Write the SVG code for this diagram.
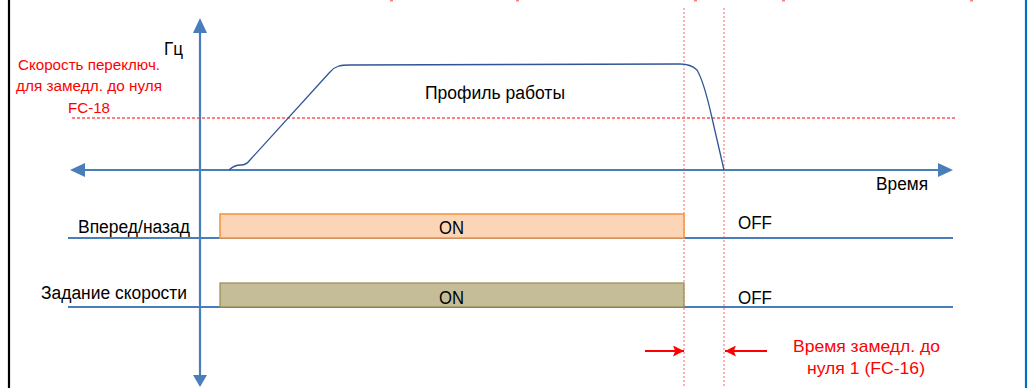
<svg xmlns="http://www.w3.org/2000/svg" width="1032" height="388" viewBox="0 0 1032 388">
<defs>
<style>
text{font-family:"Liberation Sans",Arial,sans-serif;font-size:18px;fill:#000}
.red{fill:#FF0000;font-size:17px}
.red.small{font-size:15.5px}
.axis{stroke:#4A7EBB;stroke-width:2.2;fill:none}
.sig{stroke:#4A7EBB;stroke-width:2;fill:none}
.vdot{stroke:#FF7C80;stroke-width:1.2;stroke-dasharray:2 2;fill:none}
.hdash{stroke:#FF0000;stroke-width:1.2;stroke-dasharray:3 2;fill:none}
.rarrow{stroke:#FF0000;stroke-width:2;fill:none}
</style>
<marker id="redhead" viewBox="0 0 10 10" refX="10" refY="5" markerWidth="13" markerHeight="11" orient="auto" markerUnits="userSpaceOnUse">
<path d="M0,0 L10,5 L0,10 L2,5 Z" fill="#FF0000"/>
</marker>
</defs>
<rect width="1032" height="388" fill="#FFFFFF"/>
<line x1="9" y1="0" x2="9" y2="388" stroke="#000" stroke-width="2.2"/>
<line x1="1026" y1="0" x2="1026" y2="388" stroke="#0070C0" stroke-width="2.2"/>
<g id="top-fragments" fill="#FF8080">
<rect x="390" y="0" width="3" height="1.5"/>
<rect x="516" y="0" width="3" height="1.5"/>
<rect x="694" y="0" width="3" height="1.5"/>
<rect x="782" y="0" width="3" height="1.5"/>
<rect x="970" y="0" width="3" height="1.5"/>
</g>
<g id="guides">
<line class="hdash" x1="72" y1="118" x2="955" y2="118"/>
<line class="vdot" x1="684" y1="8" x2="684" y2="388"/>
<line class="vdot" x1="724" y1="8" x2="724" y2="388"/>
</g>
<g id="signals">
<line class="sig" x1="68" y1="238" x2="953" y2="238"/>
<line class="sig" x1="68" y1="307" x2="953" y2="307"/>
</g>
<g id="forward-bar">
<rect x="220" y="214" width="464" height="24" fill="#FBD5B5" stroke="#F79646" stroke-width="1.6"/>
<text x="439" y="234" textLength="25" lengthAdjust="spacingAndGlyphs">ON</text>
</g>
<g id="speed-bar">
<rect x="220" y="283" width="464" height="24" fill="#C4BD97" stroke="#948A54" stroke-width="1.2"/>
<text x="439" y="304" textLength="25" lengthAdjust="spacingAndGlyphs">ON</text>
</g>
<g id="axes">
<line class="axis" x1="200" y1="30" x2="200" y2="376"/>
<path d="M200,18 L207,33 L193,33 Z" fill="#4A7EBB"/>
<path d="M200,387 L207,375 L193,375 Z" fill="#4A7EBB"/>
<line class="axis" x1="82" y1="170" x2="940" y2="170"/>
<path d="M70,170 L85,163 L85,177 Z" fill="#4A7EBB"/>
<path d="M953,170 L938,163 L938,177 Z" fill="#4A7EBB"/>
</g>
<g id="profile">
<path d="M229,170 C233,166 236,165 241,165 C245,165 247,164 250,160 L330,72 C335,66 340,65 350,65 L680,64 C688,64 693,66 697,70 C703,80 708,100 712,118 L724,170" fill="none" stroke="#2F5597" stroke-width="1.3"/>
<text x="425" y="99" textLength="140" lengthAdjust="spacingAndGlyphs">Профиль работы</text>
</g>
<g id="labels">
<text x="164" y="55" textLength="19" lengthAdjust="spacingAndGlyphs">Гц</text>
<text x="876" y="190" textLength="52" lengthAdjust="spacingAndGlyphs">Время</text>
<text x="78" y="233" textLength="112" lengthAdjust="spacingAndGlyphs">Вперед/назад</text>
<text x="41" y="299" textLength="146" lengthAdjust="spacingAndGlyphs">Задание скорости</text>
<text x="738" y="229" textLength="34" lengthAdjust="spacingAndGlyphs">OFF</text>
<text x="738" y="304" textLength="34" lengthAdjust="spacingAndGlyphs">OFF</text>
</g>
<g id="switch-speed-label">
<text class="red small" x="18" y="70" textLength="142" lengthAdjust="spacingAndGlyphs">Скорость переключ.</text>
<text class="red small" x="16" y="91" textLength="146" lengthAdjust="spacingAndGlyphs">для замедл. до нуля</text>
<text class="red small" x="68" y="113" textLength="42" lengthAdjust="spacingAndGlyphs">FC-18</text>
</g>
<g id="decel-time">
<line class="rarrow" x1="645" y1="351" x2="684" y2="351" marker-end="url(#redhead)"/>
<line class="rarrow" x1="767" y1="351" x2="725" y2="351" marker-end="url(#redhead)"/>
<text class="red" x="793" y="352" textLength="147" lengthAdjust="spacingAndGlyphs">Время замедл. до</text>
<text class="red" x="807" y="374" textLength="118" lengthAdjust="spacingAndGlyphs">нуля 1 (FC-16)</text>
</g>
</svg>
